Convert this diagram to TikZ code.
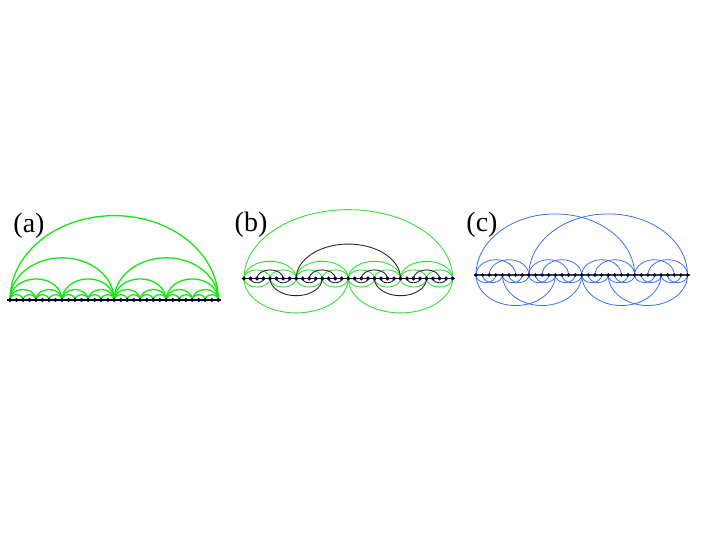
\documentclass[tikz,border=0pt]{standalone}
\usepackage{fontspec}
\setmainfont{Liberation Serif}
\definecolor{greenA}{RGB}{20,232,20}
\definecolor{greenB}{RGB}{50,225,50}
\definecolor{blackB}{RGB}{40,40,40}
\definecolor{blueC}{RGB}{60,110,232}
\definecolor{dotfill}{RGB}{0,0,120}
\begin{document}
\begin{tikzpicture}[x=1pt,y=1pt]
\tikzset{
  ga/.style={draw=greenA, line width=1.3},
  gb/.style={draw=greenB, line width=0.9},
  kb/.style={draw=blackB, line width=0.9},
  bc/.style={draw=blueC, line width=0.8},
  baseline/.style={draw=black, line width=1.6},
  dotnode/.style={circle, fill=dotfill, draw=black, line width=0.3, inner sep=0pt, minimum size=3.8pt},
  lab/.style={font=\fontsize{28}{28}\selectfont, inner sep=0pt}
}
\useasboundingbox (0,0) rectangle (715,553);
% coordinates
\foreach \i in {0,...,32}{
  \coordinate (a\i) at (10+6.51*\i, 253);
  \coordinate (b\i) at (244+6.52*\i, 274.5);
  \coordinate (c\i) at (476+6.61*\i, 278);
}
% labels
\node[lab] (la) at (29,327) {(a)};
\node[lab] (lb) at (251,328) {(b)};
\node[lab] (lc) at (482,328.5) {(c)};
% (a) hierarchical arcs
\foreach \s in {2,4,8,16,32}{
  \pgfmathtruncatemacro\n{32/\s-1}
  \foreach \k in {0,...,\n}{
    \pgfmathtruncatemacro\i{\k*\s}
    \draw[ga] (a\i) arc[start angle=180,end angle=0,x radius=\s*3.255pt,y radius=\s*3.255pt*0.81];
  }
}
% (b) green tree arcs
\foreach \s/\e in {32/0,16/360,8/0,4/0,4/360}{
  \pgfmathtruncatemacro\n{32/\s-1}
  \foreach \k in {0,...,\n}{
    \pgfmathtruncatemacro\i{\k*\s}
    \draw[gb] (b\i) arc[start angle=180,end angle=\e,x radius=\s*3.26pt,y radius=\s*3.26pt*0.66];
  }
}
% (b) black arcs
\foreach \s/\e in {16/0,8/360,4/0,2/360}{
  \pgfmathtruncatemacro\n{32/(2*\s)-1}
  \foreach \k in {0,...,\n}{
    \pgfmathtruncatemacro\i{\s/2+\k*2*\s}
    \draw[kb] (b\i) arc[start angle=180,end angle=\e,x radius=\s*3.26pt,y radius=\s*3.26pt*0.66];
  }
}
% (c) blue arcs
\foreach \m/\e in {8/0,4/360,2/0,1/360}{
  \pgfmathtruncatemacro\n{32/(4*\m)-1}
  \foreach \k in {0,...,\n}{
    \pgfmathtruncatemacro\i{\k*4*\m}
    \pgfmathtruncatemacro\j{\k*4*\m+\m}
    \draw[bc] (c\i) arc[start angle=180,end angle=\e,x radius=3*\m*3.305pt,y radius=3*\m*3.305pt*0.77];
    \draw[bc] (c\j) arc[start angle=180,end angle=\e,x radius=3*\m*3.305pt,y radius=3*\m*3.305pt*0.77];
  }
}
% baselines
\draw[baseline] ([xshift=-3pt]a0) -- ([xshift=3pt]a32);
\draw[baseline, line width=1.3] ([xshift=-2pt]b0) -- ([xshift=2pt]b32);
\draw[baseline, line width=1.2, draw=black!75] ([xshift=-2pt]c0) -- ([xshift=2pt]c32);
% dots
\foreach \i in {0,...,32}{
  \node[dotnode] (da\i) at (a\i) {};
  \node[dotnode] (db\i) at (b\i) {};
  \node[dotnode, minimum size=3.2pt] (dc\i) at (c\i) {};
}
\end{tikzpicture}
\end{document}
